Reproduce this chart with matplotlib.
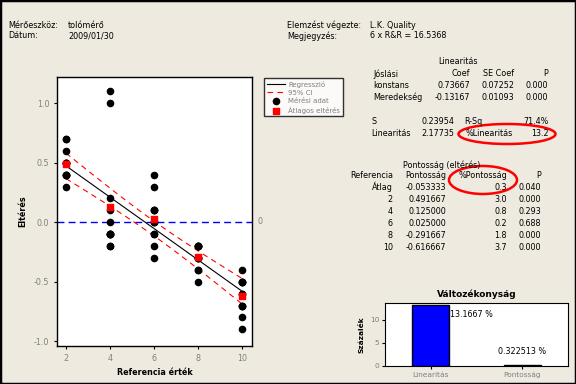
import numpy as np
import matplotlib
matplotlib.use("Agg")
import matplotlib.pyplot as plt
from matplotlib.patches import Ellipse, Rectangle

# measured bias values (measurement - reference) per reference part
references = [2, 4, 6, 8, 10]
bias_2 = [0.7, 0.5, 0.4, 0.5, 0.7, 0.3, 0.5, 0.5, 0.4, 0.4, 0.6, 0.4]
bias_4 = [1.1, -0.1, 0.2, 1.0, -0.2, -0.1, -0.1, -0.1, -0.1, 0.0, 0.1, -0.2]
bias_6 = [-0.2, -0.3, -0.1, -0.1, 0.0, 0.1, 0.0, 0.1, 0.4, 0.3, 0.0, 0.1]
bias_8 = [-0.4, -0.3, -0.2, -0.3, -0.2, -0.2, -0.2, -0.3, -0.2, -0.5, -0.4, -0.3]
bias_10 = [-0.9, -0.7, -0.5, -0.7, -0.6, -0.5, -0.5, -0.5, -0.4, -0.8, -0.7, -0.6]
all_bias = [bias_2, bias_4, bias_6, bias_8, bias_10]
avg_bias = [0.491667, 0.125000, 0.025000, -0.291667, -0.616667]

# regression results
const, slope = 0.73667, -0.13167
s_value = 0.23954
t_crit = 2.0017

bar_labels = ["Linearitás", "Pontosság"]
bar_values = [13.1667, 0.322513]

BG = "#EEEAE0"
GRAY = "#808080"
FS = 5.8

fig = plt.figure(figsize=(5.76, 3.84), dpi=100, facecolor=BG)
plt.rcParams["font.family"] = "DejaVu Sans"

def px(x, y):
    return x / 576, 1 - y / 384

def txt(x, y, s, ha="left", **kw):
    fx, fy = px(x, y)
    fig.text(fx, fy, s, ha=ha, va="center", fontsize=kw.pop("fontsize", FS), **kw)

# outer frame
fig.patches.append(Rectangle((0, 0), 1, 1, transform=fig.transFigure, fill=False,
                             edgecolor="black", linewidth=2.5))

# ---- main scatter plot ----
ax = fig.add_axes([57 / 576, 38 / 384, 195 / 576, 269 / 384])
ax.set_facecolor("white")
xs = []
ys = []
for r, b in zip(references, all_bias):
    xs += [r] * len(b)
    ys += b
xs = np.array(xs, dtype=float)
n = len(xs)
xbar = xs.mean()
sxx = ((xs - xbar) ** 2).sum()

xl = np.linspace(2, 10, 100)
yl = const + slope * xl
se = s_value * np.sqrt(1 / n + (xl - xbar) ** 2 / sxx)

ax.axhline(0, color="blue", linestyle=(0, (5, 3)), linewidth=1, zorder=1)
ax.plot(xl, yl, color="black", linewidth=0.8, label="Regresszió", zorder=2)
ax.plot(xl, yl + t_crit * se, color="red", linestyle=(0, (5, 4)), linewidth=0.8,
        label="95% CI", zorder=2)
ax.plot(xl, yl - t_crit * se, color="red", linestyle=(0, (5, 4)), linewidth=0.8, zorder=2)
ax.scatter(xs, ys, s=20, color="black", label="Mérési adat", zorder=3)
ax.scatter(references, avg_bias, s=24, marker="s", color="red",
           label="Átlagos eltérés", zorder=4)

ax.set_xlim(1.59, 10.45)
ax.set_ylim(-1.04, 1.22)
ax.set_xticks(references)
ax.set_yticks([-1.0, -0.5, 0.0, 0.5, 1.0])
ax.set_yticklabels(["-1.0", "-0.5", "0.0", "0.5", "1.0"])
ax.tick_params(labelsize=FS, labelcolor=GRAY, length=2, width=0.8, direction="out")
for sp in ax.spines.values():
    sp.set_linewidth(1)
ax.set_xlabel("Referencia érték", fontsize=FS, fontweight="bold", labelpad=4)
ax.set_ylabel("Eltérés", fontsize=FS, fontweight="bold", labelpad=5)
txt(258, 222, "0", color=GRAY)

leg = fig.legend(loc="upper left", bbox_to_anchor=px(264, 78), fontsize=5,
                 frameon=True, fancybox=False, edgecolor="black", borderpad=0.4,
                 labelspacing=0.3, handlelength=2.6, handletextpad=0.5,
                 borderaxespad=0)
leg.get_frame().set_linewidth(1)
for t in leg.get_texts():
    t.set_color(GRAY)

# ---- header ----
txt(8, 25, "Mérőeszköz:")
txt(68, 25, "tolómérő")
txt(8, 36, "Dátum:")
txt(68, 36, "2009/01/30")
txt(287, 25, "Elemzést végezte:")
txt(370, 25, "L.K. Quality")
txt(287, 36, "Megjegyzés:")
txt(370, 36, "6 x R&R = 16.5368")

# ---- linearity table ----
txt(458, 61, "Linearitás", ha="center")
txt(373, 74, "Jóslási")
txt(470, 74, "Coef", ha="right")
txt(514, 74, "SE Coef", ha="right")
txt(548, 74, "P", ha="right")
txt(373, 86, "konstans")
txt(470, 86, "0.73667", ha="right")
txt(514, 86, "0.07252", ha="right")
txt(548, 86, "0.000", ha="right")
txt(373, 97, "Meredekség")
txt(470, 97, "-0.13167", ha="right")
txt(514, 97, "0.01093", ha="right")
txt(548, 97, "0.000", ha="right")
txt(371, 121, "S")
txt(454, 121, "0.23954", ha="right")
txt(464, 121, "R-Sq")
txt(549, 121, "71.4%", ha="right")
txt(371, 133, "Linearitás")
txt(454, 133, "2.17735", ha="right")
txt(466, 133, "%Linearitás")
txt(549, 133, "13.2", ha="right")

# ---- accuracy table ----
txt(442, 165, "Pontosság (eltérés)", ha="center")
txt(393, 176, "Referencia", ha="right")
txt(446, 176, "Pontosság", ha="right")
txt(507, 176, "%Pontosság", ha="right")
txt(541, 176, "P", ha="right")
acc_refs = ["Átlag", "2", "4", "6", "8", "10"]
acc_bias = ["-0.053333", "0.491667", "0.125000", "0.025000", "-0.291667", "-0.616667"]
acc_pct = ["0.3", "3.0", "0.8", "0.2", "1.8", "3.7"]
acc_p = ["0.040", "0.000", "0.293", "0.688", "0.000", "0.000"]
for i in range(len(acc_refs)):
    y = 187 + 12 * i
    txt(393, y, acc_refs[i], ha="right")
    txt(446, y, acc_bias[i], ha="right")
    txt(507, y, acc_pct[i], ha="right")
    txt(541, y, acc_p[i], ha="right")

# red ellipses
e1 = Ellipse(px(507, 134), 97 / 576, 20 / 384, transform=fig.transFigure,
             fill=False, edgecolor="red", linewidth=1.8)
e2 = Ellipse(px(483, 180), 68 / 576, 28 / 384, transform=fig.transFigure,
             fill=False, edgecolor="red", linewidth=1.8)
fig.patches.extend([e1, e2])

# ---- bar chart ----
bx = fig.add_axes([385 / 576, 18 / 384, 183 / 576, 63 / 384])
bx.set_facecolor("white")
pos = np.arange(len(bar_labels))
bx.bar(pos, bar_values, width=0.4, color="blue", edgecolor="black", linewidth=1)
bx.set_xlim(-0.5, 1.5)
bx.set_ylim(0, 13.6)
bx.set_xticks(pos)
bx.set_xticklabels(bar_labels)
bx.set_yticks([0, 5, 10])
bx.tick_params(labelsize=5.3, labelcolor=GRAY, length=2, width=0.8, pad=2)
bx.text(pos[0] + 0.21, 11.2, f"{bar_values[0]:g} %", fontsize=FS, va="center", ha="left")
bx.text(pos[1], 3.2, f"{bar_values[1]:g} %", fontsize=FS, va="center", ha="center")
bx.set_title("Változékonyság", fontsize=6.5, fontweight="bold", pad=4)
bx.set_ylabel("Százalék", fontsize=5.3, fontweight="bold", labelpad=4)

fig.savefig("out.png", dpi=100, facecolor=BG)
